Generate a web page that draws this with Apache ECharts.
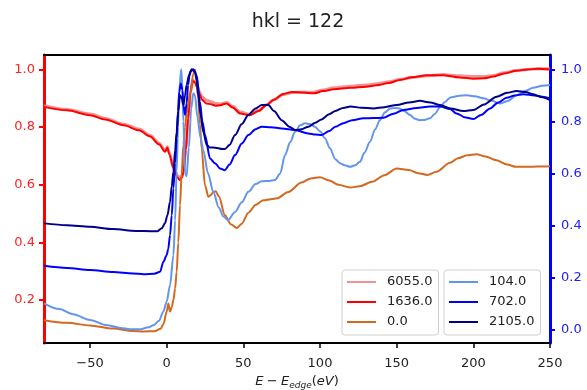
<!DOCTYPE html>
<html>
<head>
<meta charset="utf-8">
<script src="https://cdn.jsdelivr.net/npm/echarts@6/dist/echarts.min.js"></script>
<style>
html,body{margin:0;padding:0;background:#fff;}
#chart{width:587px;height:390px;}
</style>
</head>
<body>
<div id="chart"></div>
<script>
const TITLE = 'hkl = 122';
const X_TICKS = [-50, 0, 50, 100, 150, 200, 250];
const YL_TICKS = [0.2, 0.4, 0.6, 0.8, 1.0];
const YR_TICKS = [0.0, 0.2, 0.4, 0.6, 0.8, 1.0];

// 6055.0 and 1636.0 share x samples (left axis)
const X_RED = [-80,-65,-50,-40,-28,-18,-11,-5,-1,0.4,1.8,4.4,7,8.7,10,11,12.5,14,15.5,17,18.5,20,21.5,23,26,29,32,35,39,43,48,54,60,65,70,76,82,89,96,102,109,120,130,137,145,152,160,170,180,191,200,207,213,220,228,235,242,250];
const Y_6055 = [0.874,0.861,0.845,0.830,0.810,0.793,0.772,0.745,0.718,0.732,0.710,0.662,0.632,0.624,0.632,0.650,0.725,0.83,0.92,0.962,0.958,0.940,0.922,0.905,0.893,0.888,0.882,0.880,0.885,0.872,0.852,0.845,0.858,0.877,0.895,0.913,0.920,0.921,0.921,0.929,0.936,0.942,0.946,0.950,0.957,0.965,0.972,0.978,0.982,0.978,0.975,0.975,0.979,0.988,0.996,1.0,1.002,1.002];
const Y_1636 = [0.870,0.858,0.841,0.826,0.806,0.789,0.768,0.740,0.714,0.728,0.705,0.657,0.625,0.616,0.625,0.645,0.72,0.83,0.92,0.96,0.955,0.935,0.915,0.895,0.882,0.879,0.874,0.876,0.882,0.868,0.847,0.841,0.856,0.876,0.895,0.915,0.922,0.920,0.917,0.925,0.931,0.936,0.940,0.945,0.953,0.963,0.973,0.980,0.980,0.972,0.968,0.969,0.975,0.986,0.995,1.0,1.002,1.0];

// 0.0 (left axis)
const X_0 = [-80,-65,-50,-35,-22,-15,-8,-4,-2,0,1.1,2.2,3.3,4.4,5.5,6.5,7.6,8.7,9.8,10.9,12,13,15.2,17.4,18.5,19.5,20.6,21.7,22.8,25,27.2,29,30.4,32,34,38,42,45.7,49,53.3,58,63,68,72,79.3,88,94,100,106,112,119.6,126,134,142,150,158,164,170,176,184.8,190,196,202,208,215,222,228,235,242,250];
const Y_0 = [0.130,0.121,0.112,0.101,0.093,0.091,0.092,0.100,0.118,0.160,0.188,0.160,0.175,0.200,0.24,0.297,0.40,0.529,0.64,0.737,0.80,0.85,0.911,0.986,1.0,0.96,0.90,0.81,0.726,0.598,0.558,0.565,0.575,0.577,0.56,0.494,0.462,0.45,0.465,0.503,0.530,0.546,0.550,0.553,0.575,0.608,0.622,0.626,0.615,0.600,0.590,0.595,0.610,0.633,0.656,0.651,0.640,0.634,0.645,0.676,0.692,0.702,0.706,0.698,0.685,0.670,0.662,0.662,0.663,0.664];

// 104.0 (right axis)
const X_104 = [-80,-70,-61,-50,-39,-30,-24,-17,-12,-8.7,-5,-2.2,0,2.2,4.4,5.5,6.5,7.4,8.2,9.5,10.3,10.9,12,13,14.5,16,17.4,18.5,20,22,23.9,27,30.4,34,37,40,44.6,49,53.3,58,62,67,70.7,74,77.2,80.5,83.7,87,90.2,93.5,96.7,100,103.3,106.5,110,113,116,119.6,123,126,129,132.6,136,139,142.5,145.7,149,152,155,158.7,162,165,168,171.7,175,178.3,181.5,185,190,195.7,201,206.5,212,217.4,222,228.3,234,239,245,250];
const Y_104 = [0.102,0.080,0.060,0.038,0.018,0.008,0.003,0.003,0.010,0.018,0.035,0.07,0.108,0.172,0.287,0.42,0.607,0.78,0.92,1.0,0.92,0.80,0.60,0.59,0.70,0.85,0.908,0.90,0.82,0.74,0.69,0.60,0.53,0.47,0.435,0.421,0.453,0.49,0.53,0.56,0.571,0.572,0.575,0.60,0.671,0.72,0.76,0.785,0.793,0.79,0.78,0.762,0.735,0.697,0.655,0.640,0.632,0.626,0.632,0.645,0.68,0.722,0.77,0.805,0.835,0.85,0.852,0.85,0.84,0.825,0.81,0.805,0.806,0.812,0.83,0.855,0.875,0.892,0.898,0.901,0.897,0.889,0.879,0.869,0.878,0.901,0.918,0.929,0.937,0.94];

// 702.0 (right axis)
const X_702 = [-80,-65,-50,-35,-22,-15,-8,-4.3,-2.2,0,1,2.2,3.3,4.4,5.5,6.5,7.4,8.2,9.2,10.3,11,12,13,14,15.2,17.4,19.6,21.7,23.3,25,28.3,31.5,34.8,38,41,44.6,49,53.3,58,62,68,75,83.7,92.4,97,101.1,106,110,115.2,121,128.3,135,141.3,148,154.3,163,171.7,178.3,184.8,189,195,200,205,210.9,216,221.7,227,232.6,240,245,250];
const Y_702 = [0.246,0.238,0.230,0.222,0.217,0.214,0.216,0.223,0.261,0.287,0.31,0.364,0.44,0.543,0.64,0.735,0.84,0.914,0.945,0.92,0.86,0.825,0.87,0.94,0.99,1.0,0.977,0.876,0.80,0.748,0.658,0.640,0.620,0.613,0.635,0.671,0.715,0.748,0.770,0.780,0.778,0.773,0.767,0.754,0.750,0.748,0.763,0.780,0.793,0.805,0.812,0.813,0.814,0.83,0.844,0.852,0.857,0.857,0.848,0.831,0.815,0.809,0.825,0.85,0.872,0.891,0.900,0.904,0.900,0.895,0.889];

// 2105.0 (right axis)
const X_2105 = [-80,-65,-50,-35,-20,-10,-6,-3.2,-1.1,0.5,2.2,3.3,4.4,5.5,6.5,7.6,8.7,9.8,10.9,12,13,14.5,16.3,18.5,19.5,20.6,22,23.9,26.1,28,30.4,33,36,38,41,44.6,49,53.3,58,62,66.3,70,75,80,83.7,88,92.4,97,101,106,110,115,120,127,134.8,142,150,158,165.2,172,178.3,185,193.5,200,207,215.2,222,228.3,234,239,245,250];
const Y_2105 = [0.409,0.402,0.396,0.387,0.380,0.379,0.379,0.39,0.409,0.44,0.492,0.55,0.607,0.69,0.76,0.84,0.901,0.89,0.863,0.90,0.94,0.975,1.0,0.99,0.96,0.90,0.83,0.76,0.71,0.70,0.70,0.698,0.694,0.694,0.71,0.748,0.79,0.825,0.85,0.863,0.863,0.84,0.805,0.78,0.767,0.77,0.78,0.795,0.808,0.828,0.840,0.852,0.857,0.853,0.85,0.855,0.863,0.873,0.879,0.873,0.863,0.85,0.84,0.844,0.865,0.895,0.910,0.917,0.913,0.904,0.893,0.882];

const NAMES_L = ['6055.0', '1636.0', '0.0'];
const NAMES_R = ['104.0', '702.0', '2105.0'];

function zip(xs, ys) { return xs.map((x, i) => [x, ys[i]]); }
const FONT = 'DejaVu Sans';
const minus = s => String(s).replace('-', '\u2212');

function line(name, xs, ys, color, yAxisIndex, width) {
  return {
    name, type: 'line', data: zip(xs, ys), yAxisIndex,
    showSymbol: false, symbol: 'none', smooth: 0.3, smoothMonotone: 'x',
    lineStyle: { color, width }, itemStyle: { color },
    emphasis: { disabled: true }, animation: false
  };
}

const legendCommon = {
  orient: 'vertical', top: 270, icon: 'rect', itemWidth: 29, itemHeight: 2, itemGap: 4,
  padding: [4, 6, 5, 5], borderColor: '#d0d0d0', borderWidth: 1, borderRadius: 3,
  backgroundColor: 'rgba(255,255,255,0.85)',
  textStyle: { fontFamily: FONT, fontSize: 13, color: '#222', lineHeight: 16, padding: [0, 0, 0, 6] },
  selectedMode: false
};

const chart = echarts.init(document.getElementById('chart'), null, { renderer: 'canvas' });
chart.setOption({
  animation: false,
  backgroundColor: '#fff',
  title: {
    text: TITLE, left: 293, top: 8, textAlign: 'center',
    textStyle: { fontFamily: FONT, fontSize: 19, fontWeight: 'normal', color: '#222' }
  },
  grid: { left: 44, right: 37, top: 55, bottom: 47, show: true, borderColor: '#000', borderWidth: 2, backgroundColor: 'transparent', outerBoundsMode: 'none' },
  legend: [
    Object.assign({}, legendCommon, { left: 342, data: NAMES_L }),
    Object.assign({}, legendCommon, { left: 444, data: NAMES_R })
  ],
  xAxis: [
    {
      type: 'value', min: -80, max: 250, position: 'bottom',
      axisLine: { onZero: false, lineStyle: { color: '#000', width: 2 } },
      axisTick: { customValues: X_TICKS, length: 5, lineStyle: { color: '#000', width: 1.5 } },
      axisLabel: { customValues: X_TICKS, formatter: v => minus(v), margin: 14, fontFamily: FONT, fontSize: 13, color: '#222' },
      splitLine: { show: false },
      name: '{i|E} {n|\u2212} {i|E}{s|edge}{n|(}{i|eV}{n|)}',
      nameLocation: 'middle', nameGap: 31,
      nameTextStyle: {
        rich: {
          i: { fontFamily: FONT, fontStyle: 'italic', fontSize: 13, color: '#222' },
          n: { fontFamily: FONT, fontSize: 13, color: '#222' },
          s: { fontFamily: FONT, fontStyle: 'italic', fontSize: 9, color: '#222', padding: [7, 0, 0, 0] }
        }
      }
    },
    {
      type: 'value', min: -80, max: 250, position: 'top',
      axisLine: { show: true, onZero: false, lineStyle: { color: '#000', width: 2 } },
      axisTick: { show: false }, axisLabel: { show: false }, splitLine: { show: false }
    }
  ],
  yAxis: [
    {
      type: 'value', position: 'left', min: 0.051, max: 1.05,
      axisLine: { show: true, onZero: false, lineStyle: { color: '#ff0000', width: 3 } },
      axisTick: { show: true, customValues: YL_TICKS, length: 5, lineStyle: { color: '#ff0000', width: 2 } },
      axisLabel: { customValues: YL_TICKS, formatter: v => v.toFixed(1), margin: 9, fontFamily: FONT, fontSize: 13, color: '#ff2020' },
      splitLine: { show: false }
    },
    {
      type: 'value', position: 'right', min: -0.05, max: 1.055,
      axisLine: { show: true, onZero: false, lineStyle: { color: '#0000ff', width: 3 } },
      axisTick: { show: true, customValues: YR_TICKS, length: 5, lineStyle: { color: '#0000ff', width: 2 } },
      axisLabel: { customValues: YR_TICKS, formatter: v => v.toFixed(1), margin: 11, fontFamily: FONT, fontSize: 13, color: '#2020ff' },
      splitLine: { show: false }
    }
  ],
  series: [
    line(NAMES_L[0], X_RED, Y_6055, 'rgba(240,128,128,0.85)', 0, 3),
    line(NAMES_L[1], X_RED, Y_1636, '#ff0000', 0, 2),
    line(NAMES_L[2], X_0, Y_0, '#d2691e', 0, 2),
    line(NAMES_R[0], X_104, Y_104, '#6495ed', 1, 2),
    line(NAMES_R[1], X_702, Y_702, '#0000ff', 1, 2),
    line(NAMES_R[2], X_2105, Y_2105, '#00008b', 1, 2)
  ]
});
</script>
</body>
</html>
